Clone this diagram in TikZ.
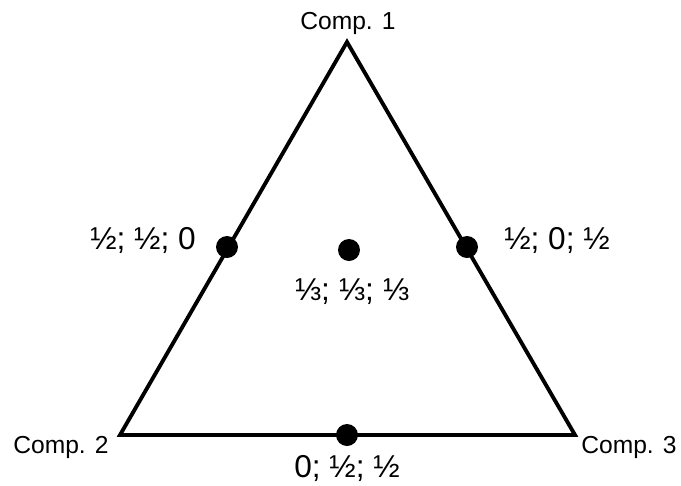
\documentclass[tikz,border=0pt]{standalone}
\usepackage{fontspec}
\setmainfont{Liberation Sans}
\tikzset{
  comp/.style={font=\fontsize{14}{16}\selectfont, inner sep=0pt},
  frac/.style={font=\fontsize{18}{20}\selectfont, inner sep=0pt},
  pt/.style={fill=black, circle, inner sep=0pt, minimum size=0.44cm}
}
\begin{document}
\begin{tikzpicture}[x=0.02cm,y=-0.02cm]
    \useasboundingbox (0,0) rectangle (681,485);
    % corners of the triangle
    \coordinate (c1) at (347,42);
    \coordinate (c2) at (120,435);
    \coordinate (c3) at (575,435);
    \draw[line width=2.2pt, line join=miter](c1)--(c2)--(c3)--cycle;
    % compositions
    \node[pt] (p12) at (227,247){};
    \node[pt] (p13) at (467,247){};
    \node[pt] (p23) at (347,435){};
    \node[pt] (p123) at (349,250){};
    % labels
    \node[comp] (l1) at (348,23){Comp. 1};
    \node[comp] (l2) at (61,447){Comp. 2};
    \node[comp] (l3) at (629,447){Comp. 3};
    \node[frac] (f12) at (143,240){½; ½; 0};
    \node[frac] (f13) at (557,240){½; 0; ½};
    \node[frac] (f123) at (352,292){⅓; ⅓; ⅓};
    \node[frac] (f23) at (347,468){0; ½; ½};
\end{tikzpicture}
\end{document}
